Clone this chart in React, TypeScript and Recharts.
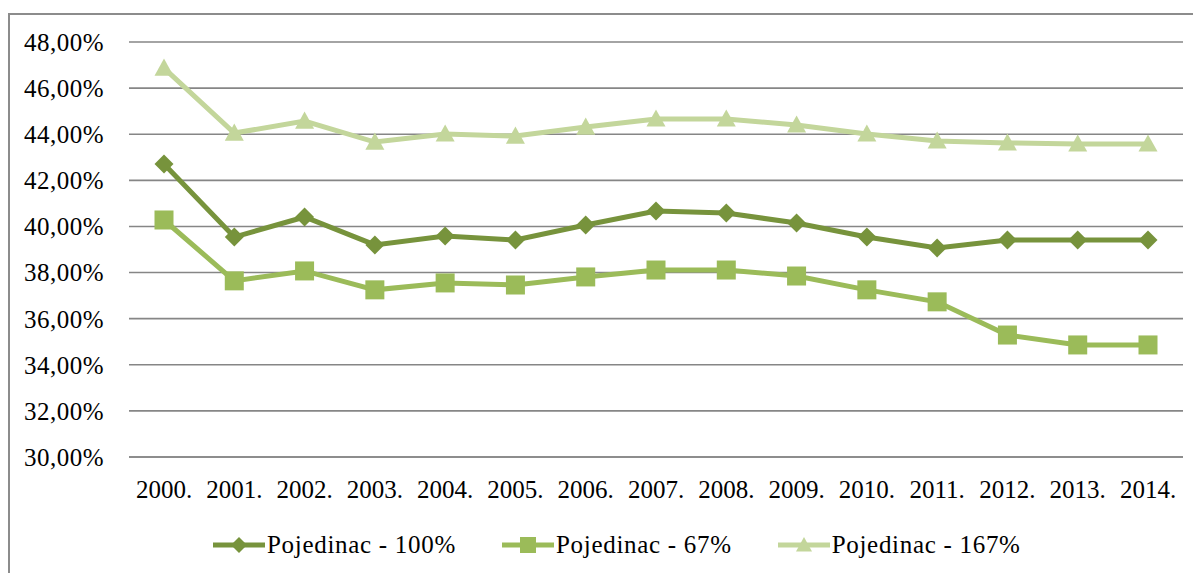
import React from 'react';
import { LineChart, Line, XAxis, YAxis, CartesianGrid, Legend } from 'recharts';

const years = ['2000.', '2001.', '2002.', '2003.', '2004.', '2005.', '2006.', '2007.', '2008.', '2009.', '2010.', '2011.', '2012.', '2013.', '2014.'];
const pojedinac100 = [42.71, 39.54, 40.41, 39.2, 39.59, 39.41, 40.06, 40.67, 40.58, 40.15, 39.54, 39.07, 39.41, 39.41, 39.41];
const pojedinac67 = [40.28, 37.64, 38.07, 37.25, 37.55, 37.46, 37.81, 38.11, 38.11, 37.85, 37.25, 36.73, 35.29, 34.86, 34.86];
const pojedinac167 = [46.87, 44.05, 44.57, 43.66, 44.01, 43.92, 44.31, 44.66, 44.66, 44.4, 44.01, 43.71, 43.62, 43.58, 43.58];
const yTicks = [30, 32, 34, 36, 38, 40, 42, 44, 46, 48];

const data = years.map((year, i) => ({
    year,
    p100: pojedinac100[i],
    p67: pojedinac67[i],
    p167: pojedinac167[i],
}));

const DARK = '#77933C';
const MID = '#9BBB59';
const LIGHT = '#C3D69B';
const GRID = '#868686';
const FONT = 'Liberation Serif';

const Diamond = ({ cx, cy, fill, s = 9.5 }: any) => (
    <polygon points={`${cx},${cy - s} ${cx + s},${cy} ${cx},${cy + s} ${cx - s},${cy}`} fill={fill} />
);
const Square = ({ cx, cy, fill, s = 9.5 }: any) => (
    <rect x={cx - s} y={cy - s} width={s * 2} height={s * 2} fill={fill} />
);
const Triangle = ({ cx, cy, fill, s = 9.5 }: any) => (
    <polygon points={`${cx},${cy - s} ${cx + s},${cy + s * 0.8} ${cx - s},${cy + s * 0.8}`} fill={fill} />
);

const series = [
    { key: 'p100', name: 'Pojedinac - 100%', color: DARK, Marker: Diamond },
    { key: 'p67', name: 'Pojedinac - 67%', color: MID, Marker: Square },
    { key: 'p167', name: 'Pojedinac - 167%', color: LIGHT, Marker: Triangle },
];

const fmt = (v: number) => `${v.toFixed(2).replace('.', ',')}%`;

const LegendContent = () => (
    <div style={{ display: 'flex', alignItems: 'center', paddingLeft: 201, height: 40, fontFamily: FONT, fontSize: 25, letterSpacing: 0.7, color: '#000' }}>
        {series.map((s) => (
            <div key={s.key} style={{ display: 'flex', alignItems: 'center', marginRight: 44 }}>
                <svg width={56} height={24}>
                    <line x1={2} y1={12} x2={54} y2={12} stroke={s.color} strokeWidth={5} />
                    <s.Marker cx={28} cy={12} fill={s.color} s={8} />
                </svg>
                <span>{s.name}</span>
            </div>
        ))}
    </div>
);

export default function App() {
    return (
        <div style={{ marginTop: 5, borderTop: '2px solid #8c8c8c', borderLeft: '2px solid #8c8c8c', width: 1193, height: 560, overflow: 'hidden' }}>
            <LineChart width={1193} height={558} data={data} margin={{ top: 27, right: 20, left: 0, bottom: 8 }}>
                <CartesianGrid vertical={false} stroke={GRID} strokeWidth={1.6} />
                <XAxis
                    dataKey="year"
                    height={68}
                    tickLine={false}
                    axisLine={{ stroke: GRID, strokeWidth: 1.6 }}
                    tickMargin={17}
                    padding={{ left: 35, right: 35 }}
                    tick={{ fill: '#000', fontSize: 25, fontFamily: FONT }}
                    interval={0}
                />
                <YAxis
                    domain={[30, 48]}
                    ticks={yTicks}
                    width={119}
                    tickLine={false}
                    axisLine={false}
                    tickMargin={19}
                    tickFormatter={fmt}
                    tick={{ fill: '#000', fontSize: 25, fontFamily: FONT, letterSpacing: 0.5 }}
                />
                <Legend verticalAlign="bottom" content={<LegendContent />} />
                {series.map((s) => (
                    <Line
                        key={s.key}
                        dataKey={s.key}
                        name={s.name}
                        stroke={s.color}
                        strokeWidth={5}
                        isAnimationActive={false}
                        dot={(p: any) => <s.Marker key={`${s.key}-${p.index}`} cx={p.cx} cy={p.cy} fill={s.color} />}
                        activeDot={false}
                    />
                ))}
            </LineChart>
        </div>
    );
}
